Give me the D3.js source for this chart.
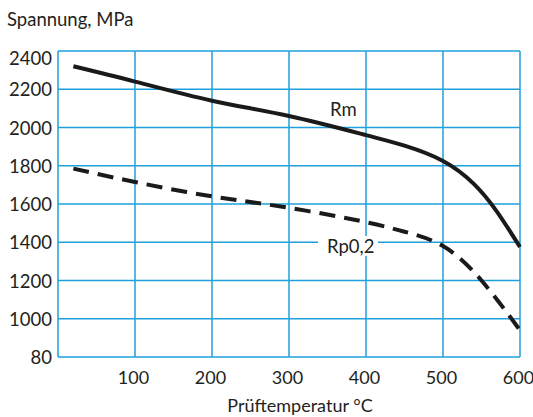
<!DOCTYPE html>
<meta charset="utf-8">
<script src="https://cdn.jsdelivr.net/npm/d3@7"></script>
<style>
body { margin: 0; background: #fff; }
text { font-family: Lato, "Open Sans", sans-serif; fill: #231f20; font-size: 18.5px; }
.grid line { stroke: #1ea0dc; stroke-width: 1.5px; }
path.rm { fill: none; stroke: #1a1a1a; stroke-width: 4px; }
path.rp { fill: none; stroke: #1a1a1a; stroke-width: 4px; stroke-dasharray: 16,9; }
</style>
<body>
<script>

// temperatures (°C) and strengths (MPa)
var rmTemps = [20, 100, 200, 300, 400, 450, 500, 540, 570, 600];
var rmValues = [2320, 2240, 2140, 2060, 1960, 1905, 1825, 1705, 1560, 1375];
var rpTemps = [20, 100, 200, 300, 400, 450, 500, 550, 600];
var rpValues = [1785, 1715, 1640, 1580, 1505, 1455, 1380, 1200, 940];

var xTicks = [100, 200, 300, 400, 500, 600];
var yTicks = [800, 1000, 1200, 1400, 1600, 1800, 2000, 2200, 2400];
var yTickLabels = ["80", "1000", "1200", "1400", "1600", "1800", "2000", "2200", "2400"];

var width = 533, height = 417;
var plotLeft = 58, plotRight = 520, plotTop = 51, plotBottom = 357;

var svg = d3.select("body").append("svg")
    .attr("width", width)
    .attr("height", height);

var x = d3.scaleLinear().domain([0, 600]).range([plotLeft, plotRight]);
var y = d3.scaleLinear().domain([800, 2400]).range([plotBottom, plotTop]);

// grid
var grid = svg.append("g").attr("class", "grid");
grid.selectAll(".v")
    .data([0].concat(xTicks))
  .enter().append("line")
    .attr("x1", function(d) { return x(d); })
    .attr("x2", function(d) { return x(d); })
    .attr("y1", plotTop)
    .attr("y2", plotBottom);
grid.selectAll(".h")
    .data(yTicks)
  .enter().append("line")
    .attr("x1", plotLeft)
    .attr("x2", plotRight)
    .attr("y1", function(d) { return y(d); })
    .attr("y2", function(d) { return y(d); });

// axes (labels only)
var xAxis = d3.axisBottom(x).tickValues(xTicks).tickSize(0).tickPadding(0);
svg.append("g")
    .attr("transform", "translate(-2," + (plotBottom + 27) + ")")
    .call(xAxis)
    .call(function(g) { g.select(".domain").remove(); })
    .selectAll("text")
    .attr("dy", 0)
    .style("font-size", "18px");

var yAxis = d3.axisLeft(y).tickValues(yTicks).tickSize(0).tickPadding(0)
    .tickFormat(function(d, i) { return yTickLabels[i]; });
svg.append("g")
    .attr("transform", "translate(" + (plotLeft - 6) + ",0)")
    .call(yAxis)
    .call(function(g) { g.select(".domain").remove(); })
    .selectAll("text")
    .attr("dy", function(d) { return d == 2400 ? "0.72em" : "0.36em"; });

svg.append("text")
    .attr("x", 7)
    .attr("y", 26)
    .text("Spannung, MPa");

svg.append("text")
    .attr("x", 300)
    .attr("y", 412)
    .attr("text-anchor", "middle")
    .style("font-size", "18px")
    .text("Prüftemperatur °C");

var line = d3.line()
    .x(function(d) { return x(d[0]); })
    .y(function(d) { return y(d[1]); })
    .curve(d3.curveNatural);

svg.append("path")
    .datum(d3.zip(rmTemps, rmValues))
    .attr("class", "rm")
    .attr("d", line);

svg.append("path")
    .datum(d3.zip(rpTemps, rpValues))
    .attr("class", "rp")
    .attr("d", line);

// curve labels
svg.append("text")
    .attr("x", 330)
    .attr("y", 116)
    .text("Rm");

svg.append("rect")
    .attr("x", 318)
    .attr("y", 236)
    .attr("width", 60)
    .attr("height", 20)
    .attr("fill", "#fff");
svg.append("text")
    .attr("x", 327)
    .attr("y", 253)
    .text("Rp0,2");

</script>
</body>
</html>
